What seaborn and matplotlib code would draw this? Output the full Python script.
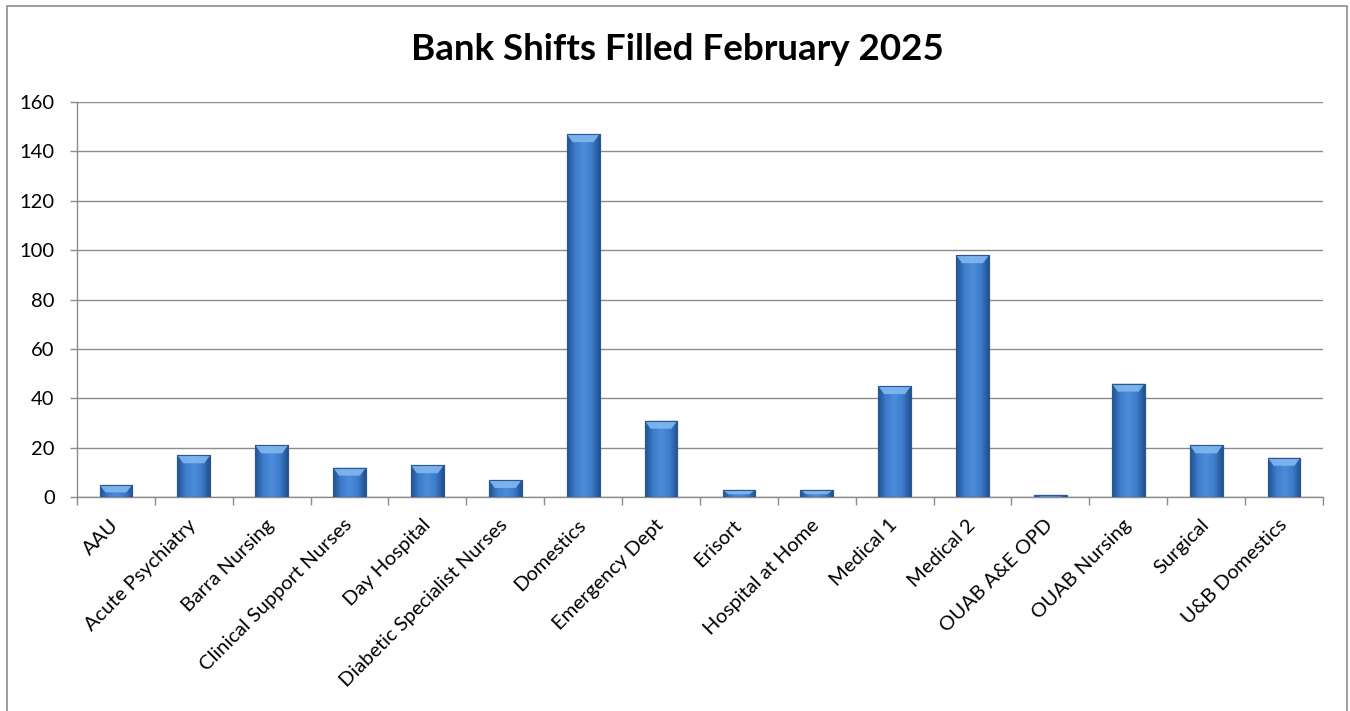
import numpy as np
import pandas as pd
import matplotlib
matplotlib.use("Agg")
import matplotlib.pyplot as plt
from matplotlib.patches import Rectangle
from matplotlib.colors import LinearSegmentedColormap
import seaborn as sns

# Bank shifts filled per area, February 2025
areas = [
    "AAU", "Acute Psychiatry", "Barra Nursing", "Clinical Support Nurses",
    "Day Hospital", "Diabetic Specialist Nurses", "Domestics", "Emergency Dept",
    "Erisort", "Hospital at Home", "Medical 1", "Medical 2", "OUAB A&E OPD",
    "OUAB Nursing", "Surgical", "U&B Domestics",
]
shifts = [5, 17, 21, 12, 13, 7, 147, 31, 3, 3, 45, 98, 1, 46, 21, 16]
y_ticks = [0, 20, 40, 60, 80, 100, 120, 140, 160]

df = pd.DataFrame({"area": areas, "shifts": shifts})

sns.set_theme(style="white")
plt.rcParams["font.family"] = ["Lato", "DejaVu Sans"]

fig = plt.figure(figsize=(13.5, 7.11), dpi=100)
ax = fig.add_axes([0.057, 0.3006, 0.923, 0.5559])

sns.barplot(data=df, x="area", y="shifts", ax=ax, color="#3A78C8",
            width=0.42, saturation=1, edgecolor="#23508F", linewidth=0.8,
            zorder=3)

# bevelled look: horizontal shading across each bar plus a lighter cap
shade = LinearSegmentedColormap.from_list(
    "bevel", ["#21518F", "#3D7DCD", "#4C8CD8", "#3D7DCD", "#21518F"])
grad = np.linspace(0, 1, 64).reshape(1, -1)
for bar in ax.patches:
    x0, w = bar.get_x(), bar.get_width()
    h = bar.get_height()
    im = ax.imshow(grad, cmap=shade, aspect="auto",
                   extent=(x0, x0 + w, 0, h), zorder=3.5,
                   interpolation="bicubic")
    im.set_clip_path(bar)

ax.set_xlim(-0.5, len(areas) - 0.5)
ax.set_ylim(0, 160)

fig.canvas.draw()
unit_px = ax.get_window_extent().height / 160.0
cap_px = 8.0
for bar in list(ax.patches):
    x0, w, h = bar.get_x(), bar.get_width(), bar.get_height()
    cap = min(cap_px / unit_px, h * 0.6)
    inset = w * 0.18
    top = [(x0, h), (x0 + w, h), (x0 + w - inset, h - cap), (x0 + inset, h - cap)]
    ax.add_patch(plt.Polygon(top, closed=True, facecolor="#82B8F0",
                             edgecolor="none", alpha=0.9, zorder=4))
    ax.add_patch(Rectangle((x0, 0), w, h, facecolor="none",
                           edgecolor="#2A5796", linewidth=0.8, zorder=4.5))

ax.set_yticks(y_ticks)
ax.yaxis.grid(True, color="#8C8C8C", linewidth=1.0, zorder=0)
ax.xaxis.grid(False)
ax.set_axisbelow(True)

for side in ("top", "right"):
    ax.spines[side].set_visible(False)
for side in ("left", "bottom"):
    ax.spines[side].set_color("#8C8C8C")
    ax.spines[side].set_linewidth(1.0)

ax.set_xticks(np.arange(-0.5, len(areas)), minor=True)
ax.tick_params(axis="x", which="minor", bottom=True, length=6,
               color="#8C8C8C", width=1.0)
ax.tick_params(axis="x", which="major", bottom=False, length=0, pad=18,
               labelsize=14.5, labelcolor="black")
ax.tick_params(axis="y", which="major", left=True, length=5,
               color="#8C8C8C", width=1.0, pad=11, labelsize=14.5,
               labelcolor="black")
ax.set_xticks(range(len(areas)))
ax.set_xticklabels(areas, rotation=45, ha="right", va="center",
                   rotation_mode="anchor")
ax.set_xlabel("")
ax.set_ylabel("")

fig.text(0.5015, 0.93, "Bank Shifts Filled February 2025", ha="center",
         va="center", fontsize=26.5, fontweight="bold", color="black")

# chart frame
fig.add_artist(Rectangle((0.0052, -0.05), 0.9926, 1.0416, transform=fig.transFigure,
                         facecolor="none", edgecolor="#8C8C8C", linewidth=1.2,
                         zorder=0))

fig.savefig("out.png", dpi=100, facecolor="white")
